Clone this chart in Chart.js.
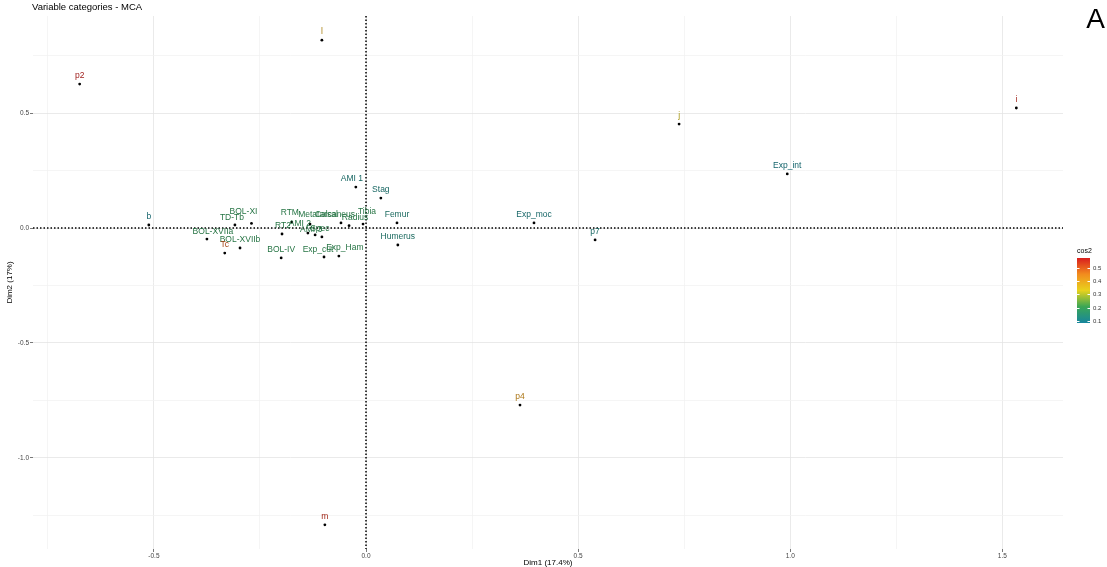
<!DOCTYPE html>
<html>
<head>
<meta charset="utf-8">
<script src="https://cdn.jsdelivr.net/npm/chart.js@4.4.1/dist/chart.umd.min.js"></script>
<style>
	html, body { margin: 0; padding: 0; background: #fff; }
	#wrap { width: 1107px; height: 567px; }
</style>
</head>
<body>
<div id="wrap"><canvas id="mca" width="1107" height="567"></canvas></div>
<script>
// MCA variable categories (Dim1, Dim2) and their cos2
const categories = [
	"p2", "l", "i", "j", "Exp_int", "Exp_moc", "p7", "p4", "m", "b",
	"AMI 1", "Stag", "Femur", "Humerus", "Tibia", "Exp_Ham", "Exp_cut", "BOL-IV",
	"BOL-XVIIa", "BOL-XVIIb", "Tc", "TD-Tb", "BOL-XI",
	"RTM", "Metatarsal", "Calcaneus", "Radius", "RT2", "AMI 2", "AMI 3", "Spec"
];
const dim1 = [
	-0.675, -0.104, 1.533, 0.738, 0.993, 0.396, 0.540, 0.363, -0.097, -0.512,
	-0.024, 0.035, 0.073, 0.075, -0.007, -0.064, -0.099, -0.200,
	-0.375, -0.297, -0.333, -0.309, -0.270,
	-0.175, -0.132, -0.059, -0.040, -0.198, -0.137, -0.120, -0.104
];
const dim2 = [
	0.626, 0.817, 0.522, 0.452, 0.235, 0.022, -0.052, -0.770, -1.291, 0.013,
	0.178, 0.130, 0.022, -0.074, 0.017, -0.122, -0.126, -0.130,
	-0.048, -0.087, -0.109, 0.013, 0.020,
	0.026, 0.017, 0.022, 0.010, -0.026, -0.022, -0.030, -0.039
];
const cos2 = [
	0.57, 0.38, 0.56, 0.33, 0.10, 0.11, 0.12, 0.41, 0.55, 0.10,
	0.12, 0.12, 0.13, 0.13, 0.19, 0.19, 0.19, 0.19,
	0.19, 0.19, 0.50, 0.19, 0.19,
	0.19, 0.19, 0.19, 0.19, 0.19, 0.19, 0.19, 0.19
];
const xTickLabels = [-0.5, 0.0, 0.5, 1.0, 1.5];
const yTickLabels = [0.5, 0.0, -0.5, -1.0];
const legendTicks = [0.1, 0.2, 0.3, 0.4, 0.5];

// label nudges (px) where the repelled labels sit off-centre
const nudge = {
	"Tibia": [4, -4], "Exp_Ham": [6, 0], "Exp_cut": [-6, 1], "AMI 1": [-4, 0],
	"BOL-XVIIa": [6, 1], "TD-Tb": [-3, 1], "BOL-XI": [-8, -4],
	"RTM": [-2, -1], "Metatarsal": [8, -1], "Calcaneus": [-6, 0], "Radius": [6, 0],
	"RT2": [1, 0], "AMI 2": [-8, -1], "AMI 3": [-4, 3], "Spec": [-2, 0]
};

const cosMin = 0.085, cosMax = 0.575;
const stops = [
	[0, [23, 134, 158]], [0.25, [58, 166, 85]], [0.5, [232, 210, 29]],
	[0.75, [242, 140, 30]], [1, [217, 30, 30]]
];
function cosRgb(v) {
	const t = Math.max(0, Math.min(1, (v - cosMin) / (cosMax - cosMin)));
	let k = 0;
	while (k < stops.length - 2 && t > stops[k + 1][0]) k++;
	const a = stops[k], b = stops[k + 1];
	const f = (t - a[0]) / (b[0] - a[0]);
	return a[1].map((ch, i) => Math.round(ch + (b[1][i] - ch) * f));
}
const cosColor = (v) => "rgb(" + cosRgb(v).join(",") + ")";
const labelColor = (v) => "rgb(" + cosRgb(v).map((c) => Math.round(c * 0.72)).join(",") + ")";

function minorTicks(scale) {
	const out = [];
	for (let v = Math.ceil(scale.min / 0.25) * 0.25; v <= scale.max + 1e-9; v += 0.25) {
		out.push({ value: Math.round(v * 100) / 100 });
	}
	scale.ticks = out;
}
const isMajor = (v) => Math.abs(v * 2 - Math.round(v * 2)) < 1e-6;

const decor = {
	id: "decor",
	beforeDatasetsDraw(chart) {
		const { ctx, chartArea: a, scales } = chart;
		const x0 = scales.x.getPixelForValue(0);
		const y0 = scales.y.getPixelForValue(0);
		ctx.save();
		ctx.strokeStyle = "#000";
		ctx.lineWidth = 1.5;
		ctx.setLineDash([1.5, 2]);
		ctx.beginPath();
		ctx.moveTo(a.left, y0); ctx.lineTo(a.right, y0);
		ctx.moveTo(x0, a.top); ctx.lineTo(x0, a.bottom);
		ctx.stroke();
		ctx.restore();
	},
	afterDatasetsDraw(chart) {
		const { ctx } = chart;
		const meta = chart.getDatasetMeta(0);
		ctx.save();
		ctx.font = "8.5px 'Liberation Sans', Arial, sans-serif";
		ctx.textAlign = "center";
		ctx.textBaseline = "middle";
		meta.data.forEach((pt, i) => {
			const name = categories[i];
			const d = nudge[name] || [0, 0];
			ctx.fillStyle = labelColor(cos2[i]);
			ctx.fillText(name, pt.x + d[0], pt.y - 8 + d[1]);
		});
		ctx.restore();
	},
	afterDraw(chart) {
		const { ctx, chartArea: a } = chart;
		ctx.save();
		ctx.fillStyle = "#000";
		ctx.textBaseline = "top";
		ctx.font = "9.5px 'Liberation Sans', Arial, sans-serif";
		ctx.fillText("Variable categories - MCA", 32, 3);
		ctx.font = "28px 'Liberation Sans', Arial, sans-serif";
		ctx.textAlign = "right";
		ctx.fillText("A", 1105, 6);
		// axis titles
		ctx.font = "8px 'Liberation Sans', Arial, sans-serif";
		ctx.textAlign = "center";
		ctx.textBaseline = "middle";
		ctx.fillText("Dim1 (17.4%)", (a.left + a.right) / 2, 563);
		ctx.translate(10, (a.top + a.bottom) / 2);
		ctx.rotate(-Math.PI / 2);
		ctx.fillText("Dim2 (17%)", 0, 0);
		ctx.restore();
		// colour bar legend
		const bx = 1077, bw = 13, top = 258, bot = 323;
		const pix = (v) => bot - (v - cosMin) / (cosMax - cosMin) * (bot - top);
		ctx.save();
		const g = ctx.createLinearGradient(0, bot, 0, top);
		for (let s = 0; s <= 20; s++) g.addColorStop(s / 20, cosColor(cosMin + (cosMax - cosMin) * s / 20));
		ctx.fillStyle = g;
		ctx.fillRect(bx, top, bw, bot - top);
		ctx.strokeStyle = "#fff";
		ctx.lineWidth = 1;
		ctx.fillStyle = "#333";
		ctx.font = "6px 'Liberation Sans', Arial, sans-serif";
		ctx.textAlign = "left";
		ctx.textBaseline = "middle";
		legendTicks.forEach((v) => {
			const y = Math.round(pix(v)) + 0.5;
			ctx.beginPath();
			ctx.moveTo(bx, y); ctx.lineTo(bx + 2.5, y);
			ctx.moveTo(bx + bw - 2.5, y); ctx.lineTo(bx + bw, y);
			ctx.stroke();
			ctx.fillText(v.toFixed(1), bx + bw + 3, y);
		});
		ctx.fillStyle = "#000";
		ctx.font = "7px 'Liberation Sans', Arial, sans-serif";
		ctx.fillText("cos2", bx, top - 7);
		ctx.restore();
	}
};

const gridColor = (c) => (isMajor(c.tick.value) ? "#e4e4e4" : "#f2f2f2");
const tickColor = (c) => (isMajor(c.tick.value) ? "#555" : "rgba(0,0,0,0)");
const tickLabel = (list) => (v) => {
	const hit = list.find((t) => Math.abs(t - v) < 1e-6);
	return hit === undefined ? "" : hit.toFixed(1);
};

new Chart(document.getElementById("mca"), {
	type: "scatter",
	data: {
		datasets: [{
			data: dim1.map((x, i) => ({ x: x, y: dim2[i] })),
			backgroundColor: "#000",
			borderWidth: 0,
			pointRadius: 1.4,
		}],
	},
	options: {
		responsive: false,
		animation: false,
		layout: { padding: { left: 0, right: 44, top: 16, bottom: 0 } },
		plugins: { legend: { display: false }, tooltip: { enabled: false } },
		scales: {
			x: {
				type: "linear",
				min: -0.785,
				max: 1.643,
				afterBuildTicks: minorTicks,
				afterFit: (s) => { s.height = 18; },
				border: { display: false },
				grid: { color: gridColor, tickColor: tickColor, tickLength: 3, lineWidth: 0.8 },
				ticks: {
					autoSkip: false, maxRotation: 0, padding: 0,
					color: "#444",
					font: { size: 6.5, family: "'Liberation Sans', Arial, sans-serif" },
					callback: tickLabel(xTickLabels),
				},
			},
			y: {
				type: "linear",
				min: -1.396,
				max: 0.922,
				afterBuildTicks: minorTicks,
				afterFit: (s) => { s.width = 33; },
				border: { display: false },
				grid: { color: gridColor, tickColor: tickColor, tickLength: 3, lineWidth: 0.8 },
				ticks: {
					autoSkip: false, padding: 1,
					color: "#444",
					font: { size: 6.5, family: "'Liberation Sans', Arial, sans-serif" },
					callback: tickLabel(yTickLabels),
				},
			},
		},
	},
	plugins: [decor],
});
</script>
</body>
</html>
